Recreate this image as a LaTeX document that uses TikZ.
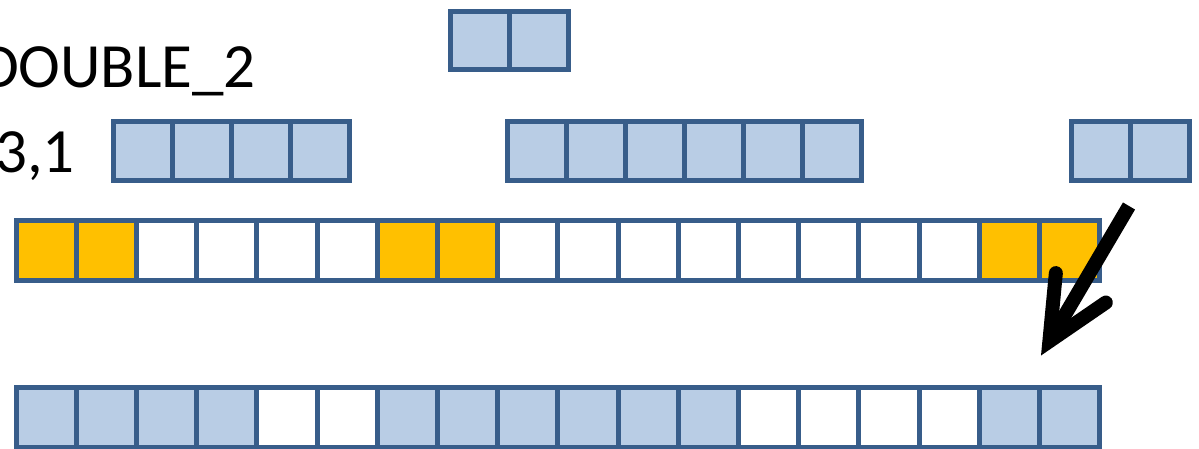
\documentclass[tikz,border=0pt]{standalone}
\usepackage{fontspec}
\setmainfont{Carlito}
\usetikzlibrary{arrows.meta}

\definecolor{cellborder}{HTML}{385D8A}
\definecolor{cellblue}{HTML}{B9CDE5}
\definecolor{cellyellow}{HTML}{FFC000}

\begin{document}
\begin{tikzpicture}[x=1pt, y=-1pt,
	cell/.style={ draw=cellborder, line width=5pt, inner sep=0pt, outer sep=0pt,
		minimum width=59pt, minimum height=58.5pt },
	widecell/.style={ cell, minimum width=60.2pt, minimum height=60pt },
	bluecell/.style={ fill=cellblue },
	yellowcell/.style={ fill=cellyellow },
	whitecell/.style={ fill=white },
	labeltext/.style={ anchor=base east, inner sep=0pt, font=\fontsize{63}{70}\selectfont }
	]

	\useasboundingbox (0, 0) rectangle (1199, 448);

	\def\pitch{59}
	\def\widepitch{60.2}

	% labels
	\node[ labeltext ] (name) at (256, 87) {DOUBLE\_2};
	\node[ labeltext ] (shape) at (75, 172) {3,1};

	% source blocks
	\foreach \k in {0, 1}
		\node[ cell, bluecell ] (top-\k) at (480+\pitch*\k, 40.5) {};
	\foreach \k in {0, ..., 3}
		\node[ cell, bluecell ] (a-\k) at (143+\pitch*\k, 151) {};
	\foreach \k in {0, ..., 5}
		\node[ cell, bluecell ] (b-\k) at (537+\pitch*\k, 151) {};
	\foreach \k in {0, 1}
		\node[ cell, bluecell ] (c-\k) at (1101+\pitch*\k, 151) {};

	% mask row
	\foreach \i in {0, 1, 6, 7, 16, 17}
		\node[ widecell, yellowcell ] (mask-\i) at (46.1+\widepitch*\i, 250.5) {};
	\foreach \i in {2, 3, 4, 5, 8, 9, 10, 11, 12, 13, 14, 15}
		\node[ widecell, whitecell ] (mask-\i) at (46.1+\widepitch*\i, 250.5) {};

	% result row
	\foreach \i in {0, 1, 2, 3, 6, 7, 8, 9, 10, 11, 16, 17}
		\node[ widecell, bluecell ] (out-\i) at (46.1+\widepitch*\i, 417.5) {};
	\foreach \i in {4, 5, 12, 13, 14, 15}
		\node[ widecell, whitecell ] (out-\i) at (46.1+\widepitch*\i, 417.5) {};

	\coordinate (arrow tail) at (1129, 206);
	\coordinate (arrow tip) at (1041, 355.5);
	\draw[ line width=14pt, -{ Straight Barb[ length=62pt, width=58pt, line cap=round, line join=miter ] } ] (arrow tail) -- (arrow tip);

\end{tikzpicture}
\end{document}
